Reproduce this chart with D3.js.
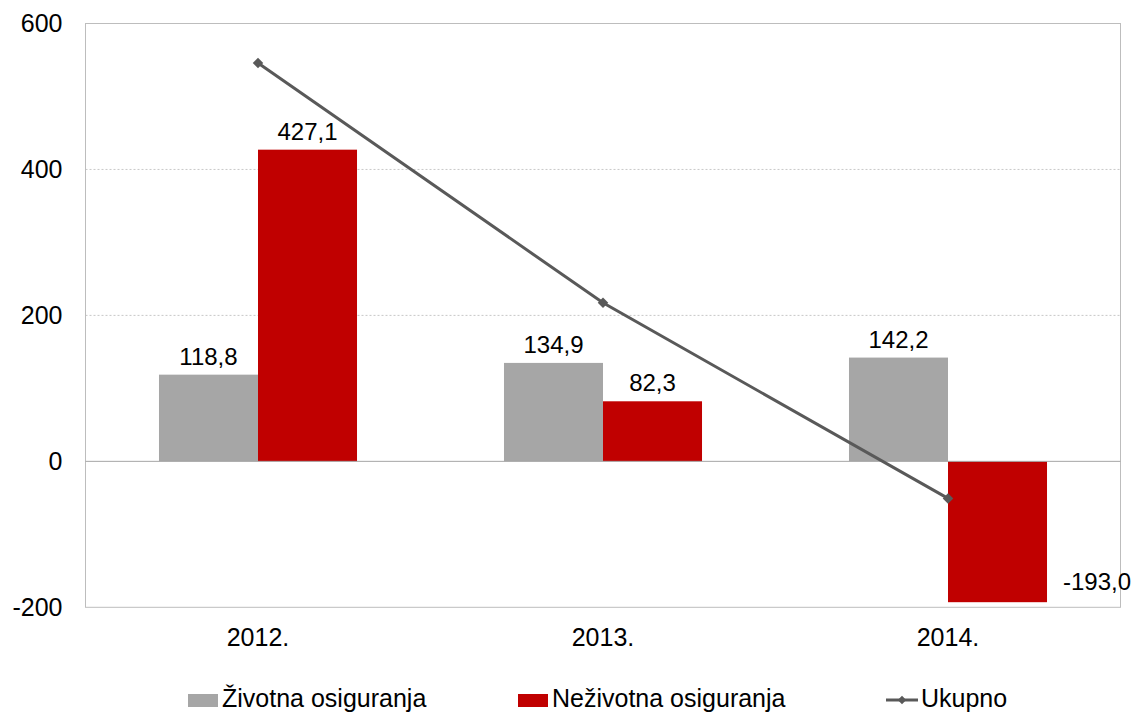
<!DOCTYPE html>
<html><head><meta charset="utf-8">
<script src="https://cdn.jsdelivr.net/npm/d3@7"></script>
<style>body{margin:0;background:#fff;}text{font-family:"Liberation Sans",Arial,sans-serif;fill:#000;}</style>
</head><body>
<svg id="c" width="1138" height="715"></svg>
<script>
const categories = ["2012.", "2013.", "2014."];
const zivotna = [118.8, 134.9, 142.2];
const nezivotna = [427.1, 82.3, -193.0];
const ukupno = [545.9, 217.2, -50.8];
const yTicks = [-200, 0, 200, 400, 600];
const seriesNames = ["Životna osiguranja", "Neživotna osiguranja", "Ukupno"];

const svg = d3.select("#c");
const FF = '"Liberation Sans",Arial,sans-serif';
const L = 85.5, R = 1120.5, T = 23.5, B = 607.3;
const y = d3.scaleLinear().domain([-200, 600]).range([B, T]);
const x0 = d3.scaleBand().domain(categories).range([L, R]).paddingInner(0.426).paddingOuter(0.213);
const x1 = d3.scaleBand().domain([0, 1]).range([0, x0.bandwidth()]);
const fmt = v => d3.format(".1f")(v).replace(".", ",").replace("−", "-");

// gridlines
svg.append("g").selectAll("line").data(yTicks.filter(t => t !== 0 && t !== -200 && t !== 600)).join("line")
  .attr("x1", L).attr("x2", R).attr("y1", d => y(d)).attr("y2", d => y(d))
  .attr("stroke", "#c8c8c8").attr("stroke-dasharray", "2,2").attr("stroke-width", 1);

// plot border
svg.append("rect").attr("x", L).attr("y", T).attr("width", R - L).attr("height", B - T)
  .attr("fill", "none").attr("stroke", "#bdbdbd").attr("stroke-width", 1);

// y axis labels
const yAxis = d3.axisLeft(y).tickValues(yTicks).tickSize(0).tickPadding(23).tickFormat(d => String(d));
const ya = svg.append("g").attr("transform", `translate(${L},0)`).call(yAxis);
ya.select(".domain").remove();
ya.selectAll("text").style("font-size", "25px").style("font-family", FF).attr("fill", "#000");

// bars
const colors = ["#a6a6a6", "#c00000"];
const data = [zivotna, nezivotna];
data.forEach((arr, si) => {
  svg.append("g").selectAll("rect").data(arr).join("rect")
    .attr("x", (d, i) => x0(categories[i]) + x1(si))
    .attr("width", x1.bandwidth())
    .attr("y", d => y(Math.max(0, d)))
    .attr("height", d => Math.abs(y(d) - y(0)))
    .attr("fill", colors[si]);
});

// zero line
svg.append("line").attr("x1", L).attr("x2", R).attr("y1", y(0)).attr("y2", y(0))
  .attr("stroke", "#a6a6a6").attr("stroke-width", 1);

// x axis labels
const xAxis = d3.axisBottom(x0).tickSize(0).tickPadding(21);
const xa = svg.append("g").attr("transform", `translate(0,${B})`).call(xAxis);
xa.select(".domain").remove();
xa.selectAll("text").style("font-size", "25px").style("font-family", FF).attr("fill", "#000");

// line
const cx = i => x0(categories[i]) + x0.bandwidth() / 2;
const line = d3.line().x((d, i) => cx(i)).y(d => y(d));
svg.append("path").datum(ukupno).attr("d", line).attr("fill", "none")
  .attr("stroke", "#595959").attr("stroke-width", 3);
svg.append("g").selectAll("path").data(ukupno).join("path")
  .attr("d", d3.symbol(d3.symbolDiamond2, 70))
  .attr("transform", (d, i) => `translate(${cx(i)},${y(d)})`)
  .attr("fill", "#595959");

// data labels
data.forEach((arr, si) => {
  svg.append("g").selectAll("text").data(arr).join("text")
    .attr("x", (d, i) => d < 0
      ? x0(categories[i]) + x1(si) + x1.bandwidth() + 16
      : x0(categories[i]) + x1(si) + x1.bandwidth() / 2)
    .attr("y", d => d < 0 ? y(d) - 12 : y(d) - 10)
    .attr("text-anchor", d => d < 0 ? "start" : "middle")
    .style("font-size", "24px")
    .text(d => fmt(d));
});

// legend
const lg = svg.append("g");
const lx = [188, 518, 886];
lg.append("rect").attr("x", lx[0]).attr("y", 694).attr("width", 30).attr("height", 13).attr("fill", colors[0]);
lg.append("rect").attr("x", lx[1]).attr("y", 694).attr("width", 30).attr("height", 13).attr("fill", colors[1]);
lg.append("line").attr("x1", lx[2]).attr("x2", lx[2] + 32).attr("y1", 700).attr("y2", 700).attr("stroke", "#595959").attr("stroke-width", 3);
lg.append("path").attr("d", d3.symbol(d3.symbolDiamond2, 45)).attr("transform", `translate(${lx[2] + 16},700)`).attr("fill", "#595959");
lg.selectAll("text").data(seriesNames).join("text")
  .attr("x", (d, i) => lx[i] + (i === 2 ? 35 : 34)).attr("y", 707).style("font-size", "25px").text(d => d);
</script>
</body></html>
